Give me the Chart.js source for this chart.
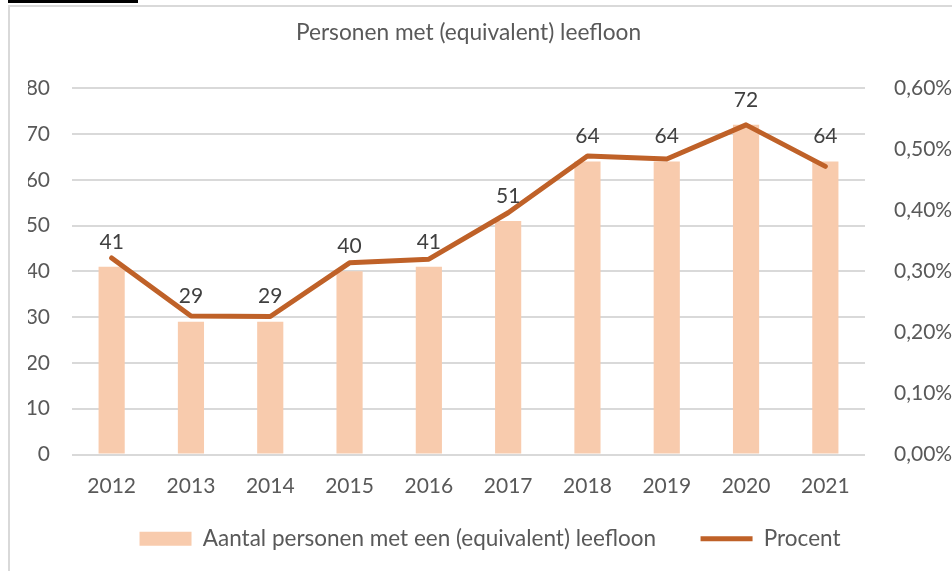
<!DOCTYPE html>
<html>
<head>
<meta charset="utf-8">
<script src="https://cdn.jsdelivr.net/npm/chart.js@4"></script>
<style>
  html, body { margin: 0; padding: 0; background: #fff; }
  body { width: 952px; height: 571px; overflow: hidden; position: relative; font-family: Lato, sans-serif; }
  .topline { position: absolute; left: 8px; top: 0; width: 130px; height: 3px; background: #000; }
  .frame { position: absolute; left: 8px; top: 5px; width: 960px; height: 580px; border: 2px solid #d9d9d9; box-sizing: border-box; }
  .wrap { position: absolute; left: 10px; top: 7px; width: 942px; height: 564px; }
</style>
</head>
<body>
<div class="topline"></div>
<div class="frame"></div>
<div class="wrap"><canvas id="chart"></canvas></div>
<script>
const years = ['2012', '2013', '2014', '2015', '2016', '2017', '2018', '2019', '2020', '2021'];
const personCounts = [41, 29, 29, 40, 41, 51, 64, 64, 72, 64];
const percentValues = [0.322, 0.227, 0.226, 0.314, 0.320, 0.396, 0.489, 0.484, 0.540, 0.472];

const barColor = '#F8CBAD';
const lineColor = '#BF6128';
const textColor = '#595959';
const gridColor = '#d9d9d9';

const barLabels = {
  id: 'barLabels',
  afterDatasetsDraw(chart) {
    const meta = chart.getDatasetMeta(0);
    const ctx = chart.ctx;
    ctx.save();
    ctx.font = '21px Lato';
    ctx.fillStyle = '#404040';
    ctx.textAlign = 'center';
    ctx.textBaseline = 'middle';
    meta.data.forEach((bar, index) => {
      ctx.fillText(String(personCounts[index]), bar.x, bar.y - 25);
    });
    ctx.restore();
  },
};

new Chart(document.getElementById('chart'), {
  type: 'bar',
  data: {
    labels: years,
    datasets: [
      {
        type: 'bar',
        label: 'Aantal personen met een (equivalent) leefloon',
        data: personCounts,
        backgroundColor: barColor,
        borderWidth: 0,
        barPercentage: 0.33,
        categoryPercentage: 1,
        yAxisID: 'y',
        order: 1,
        pointStyle: 'rect',
      },
      {
        type: 'line',
        label: 'Procent',
        data: percentValues,
        borderColor: lineColor,
        backgroundColor: lineColor,
        borderWidth: 5,
        borderCapStyle: 'round',
        borderJoinStyle: 'round',
        tension: 0,
        pointRadius: 0,
        fill: false,
        yAxisID: 'y1',
        order: 0,
        pointStyle: 'line',
      },
    ],
  },
  options: {
    responsive: true,
    maintainAspectRatio: false,
    animation: false,
    layout: { padding: { left: 18, right: 0, top: 0, bottom: 11 } },
    plugins: {
      title: {
        display: true,
        fullSize: false,
        text: 'Personen met (equivalent) leefloon',
        color: textColor,
        font: { family: 'Lato', size: 22.7, weight: 'normal' },
        padding: { top: 12, bottom: 42 },
      },
      legend: {
        display: true,
        position: 'bottom',
        labels: {
          color: textColor,
          font: { family: 'Lato', size: 22.5 },
          usePointStyle: true,
          pointStyleWidth: 52,
          boxHeight: 14,
          padding: 10,
          sort: (a, b) => a.datasetIndex - b.datasetIndex,
          generateLabels(chart) {
            const items = Chart.defaults.plugins.legend.labels.generateLabels(chart);
            // trailing spaces widen the gap before the second legend entry
            items.forEach((item) => {
              if (item.datasetIndex === 0) {
                item.text = `${item.text}      `;
              }
            });
            return items;
          },
        },
      },
      tooltip: { enabled: false },
    },
    scales: {
      x: {
        grid: { display: false },
        border: { display: false },
        ticks: {
          color: textColor,
          font: { family: 'Lato', size: 21 },
          padding: 11,
        },
        afterFit(scale) {
          scale.height = 63;
        },
      },
      y: {
        position: 'left',
        min: 0,
        max: 80,
        ticks: {
          stepSize: 10,
          color: textColor,
          font: { family: 'Lato', size: 21 },
          padding: 22,
        },
        grid: { color: gridColor, lineWidth: 2, drawTicks: false },
        border: { display: false },
        afterFit(scale) {
          scale.width = 44;
        },
      },
      y1: {
        position: 'right',
        min: 0,
        max: 0.6,
        ticks: {
          stepSize: 0.1,
          color: textColor,
          font: { family: 'Lato', size: 21 },
          padding: 21,
          callback(value) {
            return `${Number(value).toFixed(2).replace('.', ',')}%`;
          },
        },
        grid: { display: false },
        border: { display: false },
        afterFit(scale) {
          scale.width = 87;
        },
      },
    },
  },
  plugins: [barLabels],
});
</script>
</body>
</html>
